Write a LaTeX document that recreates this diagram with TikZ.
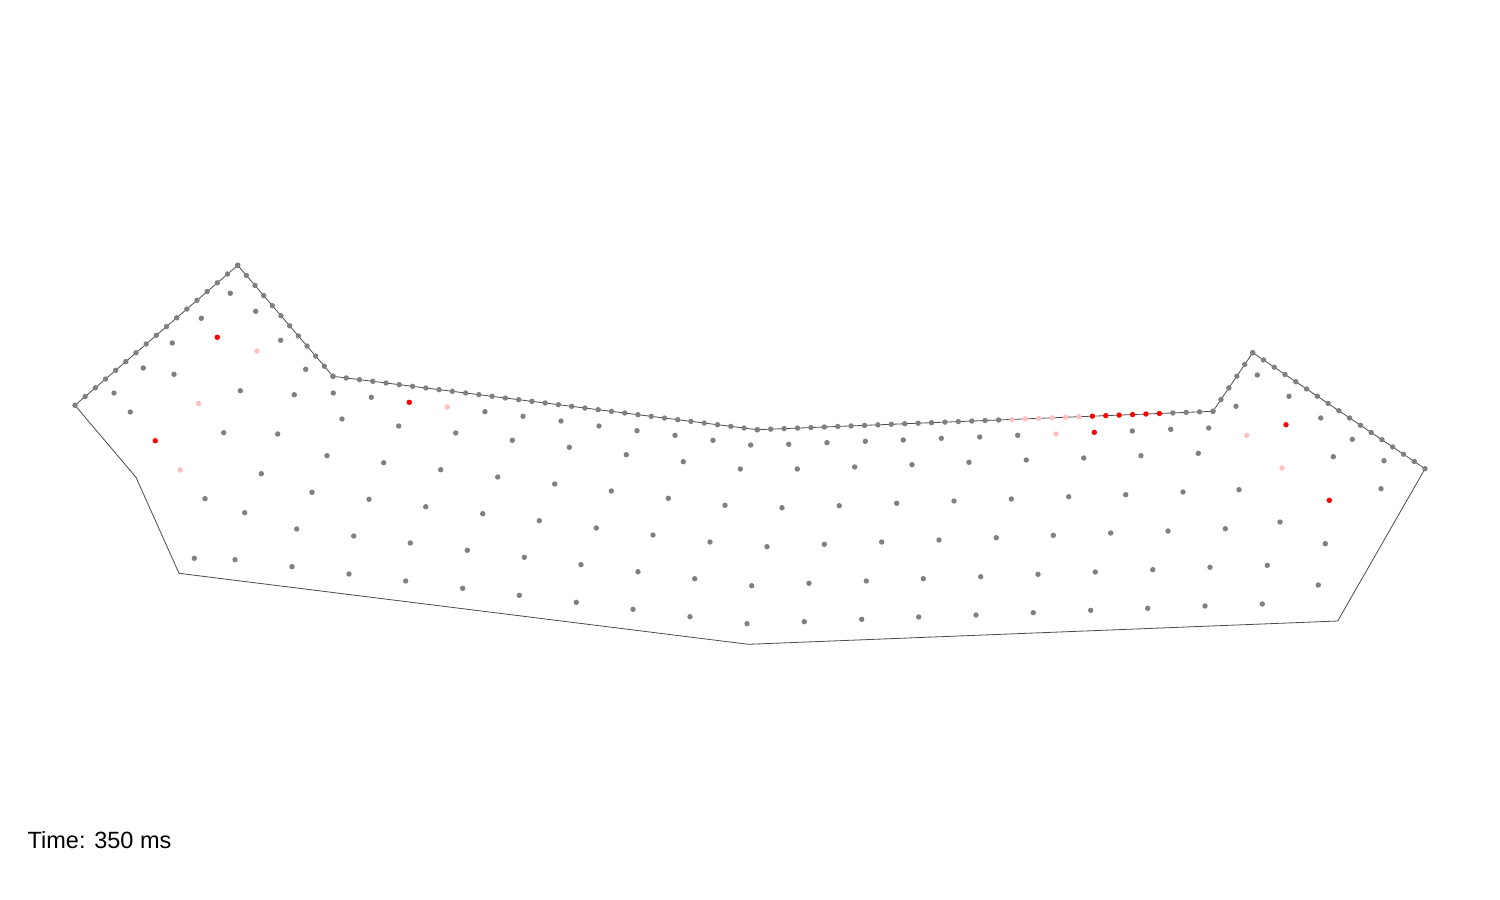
\documentclass[tikz,border=0pt]{standalone}
\usepackage{fontspec}
\setmainfont{Liberation Sans}
\usepackage{xcolor}
\usepackage{tikz}
\usetikzlibrary{calc}

\definecolor{dotgray}{RGB}{128,128,128}
\definecolor{dotred}{RGB}{255,0,0}
\definecolor{dotpink}{RGB}{255,192,192}

\tikzset{
    outline/.style={draw=black!70, line width=0.8pt, line join=round},
    ptgray/.style={fill=dotgray},
    ptred/.style={fill=dotred},
    ptpink/.style={fill=dotpink}
}

\begin{document}
\begin{tikzpicture}[x=1pt, y=-1pt]
\fill[white] (0,0) rectangle (1500,900);
\useasboundingbox (0,0) rectangle (1500,900);

% corners of the body
\coordinate (P1) at (75,405.3);
\coordinate (P2) at (237.7,265.3);
\coordinate (P3) at (333,376.3);
\coordinate (P4) at (757.3,429.7);
\coordinate (P5) at (1213,411.3);
\coordinate (P6) at (1252.7,352.7);
\coordinate (P7) at (1425,468.7);
\coordinate (P8) at (1337.7,621);
\coordinate (P9) at (748.3,644.3);
\coordinate (P10) at (179,573.3);
\coordinate (P11) at (136,477.3);

\draw[outline] (P1) -- (P2) -- (P3) -- (P4) -- (P5) -- (P6) -- (P7)
    -- (P8) -- (P9) -- (P10) -- (P11) -- cycle;

% surface particles
\foreach \a/\b/\n in {P1/P2/16, P2/P3/11, P3/P4/32, P5/P6/5, P6/P7/16} {
    \foreach \i [evaluate=\i as \t using \i/\n] in {0,...,\n}
        \fill[ptgray] ($(\a)!\t!(\b)$) circle (2.7pt);
}
\foreach \lo/\hi/\c in {0/18/ptgray, 19/24/ptpink, 25/30/ptred, 31/34/ptgray} {
    \foreach \i [evaluate=\i as \t using \i/34] in {\lo,...,\hi}
        \fill[\c] ($(P4)!\t!(P5)$) circle (2.7pt);
}

% interior particles
\foreach \x/\y in {
    230.3/293.3, 201.3/318.3, 255.7/311.3, 172.3/343, 280.7/340.3, 143.3/368,
    174/374.3, 305.7/369.3, 114/393, 240.3/390.7, 294.3/394.7, 130.3/412,
    223.7/432.7, 277.7/434, 327/455.7, 261.3/473.7, 312/492.3, 205/498.7,
    244.7/512.7, 296.7/529, 194.3/558.3, 235/559.7, 292/566.7,
    % row A
    333.3/393, 371.3/397.3, 485/411.7, 523/416.3, 561/421, 599/426, 637/430.7,
    675/435.3, 713/440.3, 750.7/445, 788.7/444.3, 827/442.7, 865.3/441.3,
    903.3/440, 941.3/438.3, 979.7/437, 1017.7/435.3, 1132.3/431, 1170.7/429.3,
    1208.7/428,
    % row B
    342/419, 398.7/426, 455.7/433, 512.3/440.3, 569.3/447.3, 626.3/454.7,
    683.3/461.7, 740.3/469, 797.3/469, 854.7/467, 912/464.7, 969/462.3,
    1026.3/460, 1083.7/458, 1141/455.7, 1198.3/453.3,
    % row C
    383.7/462.7, 440.7/469.7, 497.7/477, 554.7/484, 611.3/491, 668.3/498.3,
    725/505.3, 782/507.7, 839.3/505.7, 896.7/503.3, 954/501, 1011.3/499,
    1068.7/496.7, 1125.7/494.7, 1183/492, 1239/489.7,
    % row D
    369/499.3, 425.7/506.7, 482.7/513.7, 539.3/520.7, 596.3/528, 653/535,
    710/542, 767/546.7, 824.3/544.3, 881.7/542, 939/540, 996.3/537.7,
    1053.3/535.3, 1110.7/533, 1168/531, 1225.3/528.7,
    % row E
    353.7/536, 410.3/543, 467.3/550.3, 524.3/557.3, 581/564.7, 638/571.7,
    694.7/578.7, 751.7/585.7, 809/583.3, 866.3/581, 923.3/578.7, 980.7/576.7,
    1038/574.3, 1095.3/572, 1152.7/569.7, 1210/567.3,
    % row F
    349/574, 405.7/581, 462.7/588.3, 519.3/595.3, 576.3/602.3, 633/609.3,
    690/616.7, 747/623.7, 804.3/621.7, 861.7/619.3, 918.7/617, 976/615,
    1033.3/612.7, 1090.7/610.3, 1147.7/608.3, 1205/606,
    % right lobe
    1257.3/375, 1236/406.3, 1289/396.3, 1320.7/418, 1352.3/439.3, 1333.3/456.7,
    1384/460.7, 1381/488.7, 1280/522, 1325.3/543.7, 1267.3/565.3, 1318.3/585,
    1262.3/604
} {
    \fill[ptgray] (\x,\y) circle (2.7pt);
}
\foreach \x/\y in {257/351, 198.7/403.5, 180.3/470, 447.3/407, 1056/434,
    1246.7/435.3, 1282/468} {
    \fill[ptpink] (\x,\y) circle (2.7pt);
}
\foreach \x/\y in {217.3/337.3, 155.3/440.7, 409.3/402.3, 1094.3/432.3,
    1286/424.7, 1329.3/500.3} {
    \fill[ptred] (\x,\y) circle (2.7pt);
}

\node[anchor=base west, inner sep=0pt, font=\fontsize{23.5}{28}\selectfont]
    (clock) at (27.5,848) {Time: 350 ms};
\end{tikzpicture}
\end{document}
